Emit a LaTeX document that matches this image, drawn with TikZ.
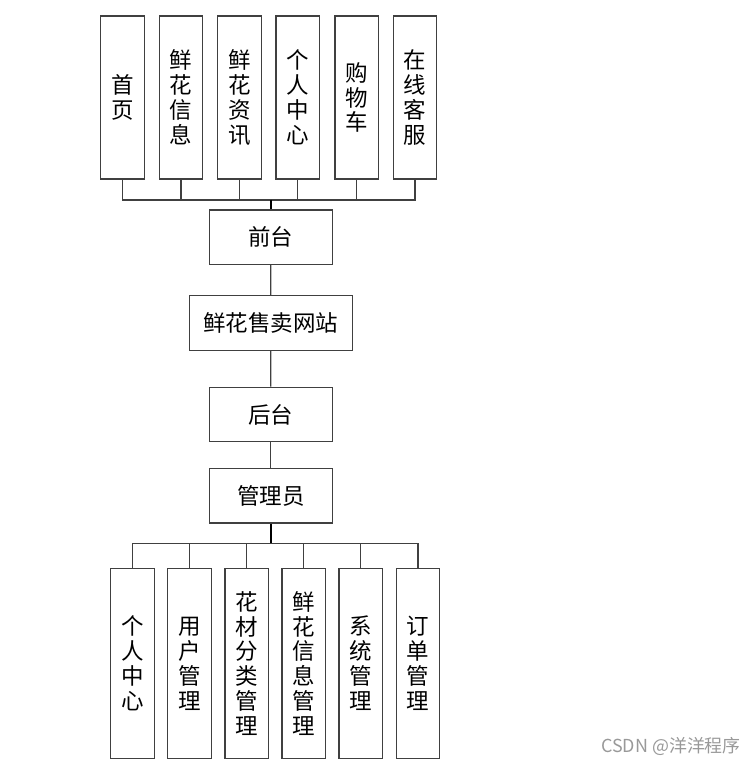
\documentclass[tikz,border=0pt]{standalone}
\usepackage{fontspec}
\setmainfont{Noto Sans CJK SC}
\usepackage{tikz}

\begin{document}
\begin{tikzpicture}[x=0.02cm, y=-0.02cm,
  box/.style={draw=black!75, line width=0.7pt, fill=white, inner sep=0pt, align=center,
    font=\fontsize{12.8}{14.2}\selectfont},
  topbox/.style={box, minimum width=0.866cm, minimum height=3.26cm},
  midbox/.style={box, minimum width=2.46cm, minimum height=1.09cm},
  lowbox/.style={box, minimum width=0.872cm, minimum height=3.81cm},
  link/.style={draw=black!75, line width=0.7pt},
  trunk/.style={draw=black, line width=1.1pt}]
\useasboundingbox (0,0) rectangle (755,766);
\node[topbox] (t1) at (122.5,97.5) {首\\页};
\node[topbox] (t2) at (181,97.5) {鲜\\花\\信\\息};
\node[topbox] (t3) at (239.5,97.5) {鲜\\花\\资\\讯};
\node[topbox] (t4) at (297.7,97.5) {个\\人\\中\\心};
\node[topbox] (t5) at (356.7,97.5) {购\\物\\车};
\node[topbox] (t6) at (415,97.5) {在\\线\\客\\服};
\node[midbox] (front) at (270.8,237.2) {前台};
\node[midbox, minimum width=3.26cm] (site) at (270.7,322.9) {鲜花售卖网站};
\node[midbox] (back) at (270.8,414.5) {后台};
\node[midbox] (admin) at (270.8,495.8) {管理员};
\node[lowbox] (b1) at (132.5,663.5) {个\\人\\中\\心};
\node[lowbox] (b2) at (189.5,663.5) {用\\户\\管\\理};
\node[lowbox] (b3) at (246.7,663.5) {花\\材\\分\\类\\管\\理};
\node[lowbox] (b4) at (303.8,663.5) {鲜\\花\\信\\息\\管\\理};
\node[lowbox] (b5) at (360.8,663.5) {系\\统\\管\\理};
\node[lowbox] (b6) at (418,663.5) {订\\单\\管\\理};
\coordinate (topbus) at (270.8,200);
\coordinate (lowbus) at (270.8,543.3);
\foreach \i in {1,...,6}
  \draw[link] (t\i.south) |- (topbus);
\draw[trunk] (topbus) -- (front.north);
\draw[link] (front) -- (site);
\draw[link] (site) -- (back);
\draw[link] (back) -- (admin);
\draw[trunk] (admin.south) -- (lowbus);
\foreach \i in {1,...,6}
  \draw[link] (lowbus) -| (b\i.north);
\node[text=black!40, font=\fontsize{10.2}{12}\selectfont, inner sep=0pt] (mark) at (671,746) {CSDN @洋洋程序};
\end{tikzpicture}
\end{document}
